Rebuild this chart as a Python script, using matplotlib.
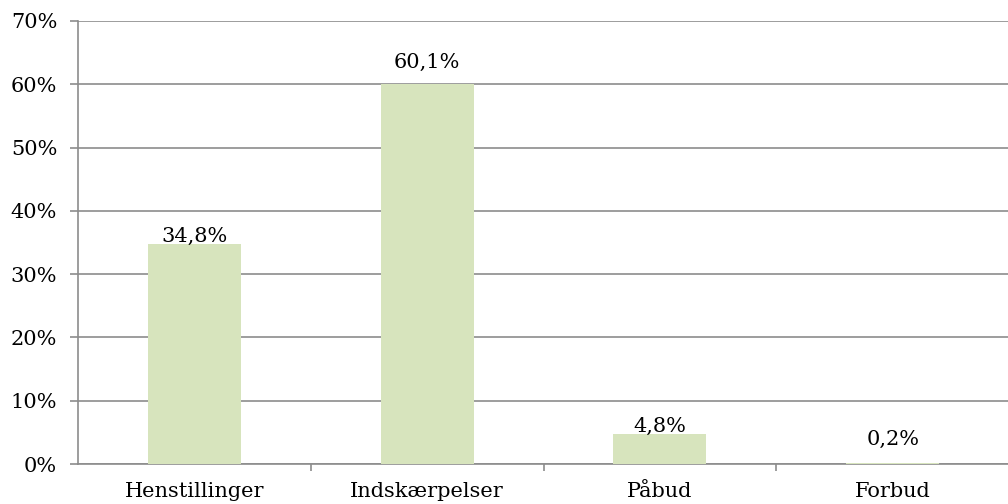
import matplotlib
matplotlib.use("Agg")
import matplotlib.pyplot as plt
from matplotlib.ticker import FuncFormatter, FixedLocator

categories = ["Henstillinger", "Indskærpelser", "Påbud", "Forbud"]
values = [34.8, 60.1, 4.8, 0.2]
value_labels = ["34,8%", "60,1%", "4,8%", "0,2%"]
yticks = [0, 10, 20, 30, 40, 50, 60, 70]

label_offsets = [1.5, 11.5, 1.5, 13]  # points from bar top to text baseline

FS = 15
plt.rcParams['font.family'] = ['DejaVu Serif']
fig = plt.figure(figsize=(10.08, 5.04), dpi=100)
ax = fig.add_axes([78/1008, 1 - 464/504, 931/1008, (464-21)/504])

x = list(range(len(categories)))
ax.bar(x, values, width=0.4, color="#D7E4BD", zorder=3)
ax.set_xlim(-0.5, len(categories) - 0.5)
ax.set_ylim(0, 70)
ax.set_yticks(yticks)
ax.yaxis.set_major_formatter(FuncFormatter(lambda v, p: f"{int(v)}%"))
ax.grid(axis="y", color="#8C8C8C", linewidth=1.2, zorder=0)
ax.set_axisbelow(True)

ax.xaxis.set_major_locator(FixedLocator(x))
ax.set_xticks([i + 0.5 for i in x[:-1]], minor=True)
ax.set_xticklabels(categories, fontsize=FS)
ax.tick_params(axis="x", which="major", length=0, pad=13)
ax.tick_params(axis="x", which="minor", length=5, color="#8C8C8C", width=1.2)
ax.tick_params(axis="y", length=6, color="#8C8C8C", width=1.2, labelsize=FS, pad=9)

for s in ["top", "right"]:
    ax.spines[s].set_visible(False)
for s in ["left", "bottom"]:
    ax.spines[s].set_color("#8C8C8C")
    ax.spines[s].set_linewidth(1.2)

for xi, v, lab, off in zip(x, values, value_labels, label_offsets):
    ax.annotate(lab, (xi, v), xytext=(0, off), textcoords="offset points",
                ha="center", va="baseline", fontsize=FS)

fig.savefig("out.png", dpi=100)
